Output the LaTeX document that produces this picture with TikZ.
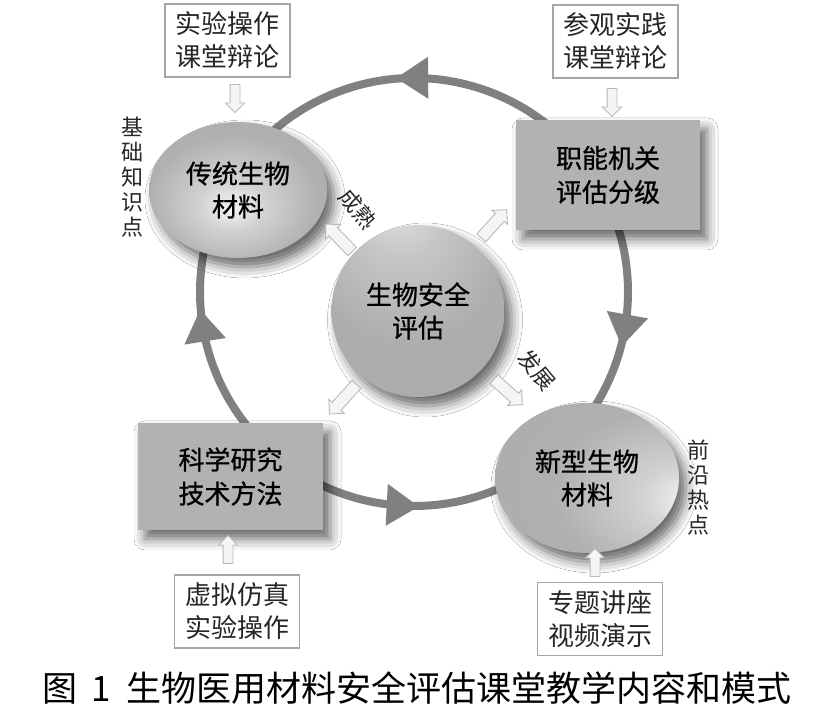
\documentclass[tikz,border=0pt]{standalone}
\usepackage{fontspec}
\newfontfamily\cjk{Noto Sans CJK SC}
\newfontfamily\cjkb[FakeBold=0.8]{Noto Sans CJK SC}
\usetikzlibrary{shapes.arrows,shapes.geometric,shadows.blur,decorations.markings}
\pgfdeclareradialshading{sphL}{\pgfpoint{-2bp}{-7bp}}{color(0bp)=(gray!8); color(9bp)=(gray!35); color(24bp)=(gray!62); color(50bp)=(gray!68)}
\pgfdeclareradialshading{sphN}{\pgfpoint{30bp}{-8bp}}{color(0bp)=(gray!5); color(10bp)=(gray!35); color(26bp)=(gray!62); color(60bp)=(gray!68)}
\pgfdeclareradialshading{sphS}{\pgfpoint{-6bp}{34bp}}{color(0bp)=(gray!20); color(12bp)=(gray!45); color(28bp)=(gray!64); color(60bp)=(gray!68)}
\begin{document}
\begin{tikzpicture}[x=1pt,y=1pt,
  cyc/.style={draw=gray, line width=8pt},
  midhead/.style={postaction={decorate}, decoration={markings,
     mark=at position #1 with {\fill[gray] (16pt,0pt) -- (-16pt,21pt) -- (-16pt,-21pt) -- cycle;}}},
  shad/.style={blur shadow={shadow xshift=7pt, shadow yshift=-9pt, shadow blur radius=11pt, shadow opacity=60}},
  ball/.style={ellipse, inner sep=0pt, shad},
  balltext/.style={inner sep=0pt, align=center, text=black, font=\cjkb\fontsize{26}{33}\selectfont},
  bigbox/.style={rectangle, fill=gray!60, inner sep=0pt, shad, align=center, text=black,
     font=\cjkb\fontsize{26}{34}\selectfont},
  smallbox/.style={rectangle, draw=gray!70, line width=1.6pt, fill=white, inner sep=0pt,
     minimum width=125pt, minimum height=73pt, align=center, text=black!85,
     font=\cjk\fontsize{26}{33}\selectfont},
  vlabel/.style={align=center, inner sep=0pt, text=black!85, font=\cjk\fontsize{22}{25}\selectfont},
  rotlabel/.style={inner sep=0pt, text=black!85, font=\cjk\fontsize{22}{24}\selectfont},
  harrow/.style={single arrow, draw=gray!55, fill=gray!8, line width=0.9pt,
     single arrow head extend=4.5pt, inner xsep=0pt, inner ysep=#1, text height=0pt, text depth=0pt},
  harrow/.default=4.5pt
]
\fill[white] (0,0) rectangle (834,715);
\useasboundingbox (0,0) rectangle (834,715);

% big cycle
\coordinate (C) at (414,423);
\draw[cyc, midhead=0.5]   ([shift={(31:214)}]C)  arc[start angle=31,  end angle=150, radius=214];
\draw[cyc, midhead=0.53]  ([shift={(31:214)}]C)  arc[start angle=31,  end angle=-47, radius=214];
\draw[cyc, midhead=0.477] ([shift={(225:214)}]C) arc[start angle=225, end angle=313, radius=214];
\draw[cyc, midhead=0.48]  ([shift={(225:214)}]C) arc[start angle=225, end angle=150, radius=214];

% main nodes
\node[bigbox, minimum width=184pt, minimum height=110pt] (J) at (608,540) {职能机关\\评估分级};
\node[bigbox, minimum width=185pt, minimum height=107pt] (K) at (230.5,238.5) {科学研究\\技术方法};
\node[ball, shading=sphL, minimum width=178pt, minimum height=136pt] (Lb) at (238,525) {};
\node[balltext] (L) at (Lb) {传统生物\\材料};
\node[ball, shading=sphN, minimum width=184pt, minimum height=150pt] (Nb) at (587,237) {};
\node[balltext] (N) at (Nb) {新型生物\\材料};
\node[ball, shading=sphS, minimum width=173pt, minimum height=172pt] (Sb) at (418,404) {};
\node[balltext] (S) at (Sb) {生物安全\\评估};

% small boxes
\node[smallbox] (a) at (227.5,674.5) {实验操作\\课堂辩论};
\node[smallbox] (b) at (615.5,673.5) {参观实践\\课堂辩论};
\node[smallbox] (c) at (237,103.5) {虚拟仿真\\实验操作};
\node[smallbox] (d) at (600,96) {专题讲座\\视频演示};

% block arrows from small boxes
\node[harrow, minimum height=28pt, rotate=-90] (aa) at (235,619) {};
\node[harrow, minimum height=28pt, rotate=-90] (ba) at (612,615) {};
\node[harrow, minimum height=28pt, rotate=90]  (ca) at (228,163) {};
\node[harrow, minimum height=28pt, rotate=90]  (da) at (595,150) {};

% block arrows from centre
\node[harrow=5.5pt, minimum height=38pt, rotate=134] (s1) at (341,475) {};
\node[harrow=5.5pt, minimum height=38pt, rotate=48]  (s2) at (492,489) {};
\node[harrow=5.5pt, minimum height=40pt, rotate=228] (s3) at (345,318) {};
\node[harrow=5.5pt, minimum height=38pt, rotate=-42] (s4) at (506,325) {};

% side labels
\node[vlabel] (v1) at (132,538) {基\\础\\知\\识\\点};
\node[vlabel] (v2) at (698,227) {前\\沿\\热\\点};
\node[rotlabel, rotate=-50] (r1) at (358,506) {成熟};
\node[rotlabel, rotate=-50] (r2) at (537,345) {发展};

% caption
\node[inner sep=0pt, text=black, font=\cjk\fontsize{35}{38}\selectfont] (cap) at (417,27)
  {图\hspace{14pt}1\hspace{16pt}生物医用材料安全评估课堂教学内容和模式};
\end{tikzpicture}
\end{document}
